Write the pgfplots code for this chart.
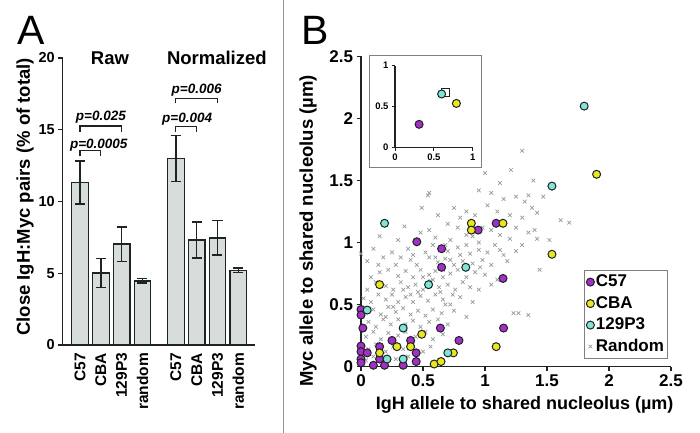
\documentclass[border=0pt]{standalone}
\usepackage{pgfplots}
\pgfplotsset{compat=1.18}
\usepackage{fontspec}
\setmainfont{Liberation Sans}
\definecolor{cc57}{RGB}{165,45,200}
\definecolor{ccba}{RGB}{235,230,30}
\definecolor{c129}{RGB}{125,230,215}
\definecolor{crand}{RGB}{150,155,155}
\definecolor{barfill}{RGB}{214,221,219}
\definecolor{edge}{RGB}{30,35,35}
\newcommand{\fs}[1]{\fontsize{#1bp}{#1bp}\selectfont\bfseries}
\begin{document}
\begin{tikzpicture}
\path[use as bounding box] (0,0) rectangle (700bp,433bp);
\draw[gray!85, line width=1bp] (283bp,0) -- (283bp,433bp);
\node[font=\fontsize{41bp}{41bp}\selectfont, anchor=center] at (31bp,403bp) {A};
\node[font=\fontsize{41bp}{41bp}\selectfont, anchor=center] at (315bp,403bp) {B};

% ---------- Panel A ----------
\begin{axis}[
  at={(62.7bp,88bp)}, anchor=south west,
  scale only axis, width=192.3bp, height=287bp,
  xmin=0.17, xmax=9.4, ymin=0, ymax=20,
  axis x line*=bottom, axis y line*=left,
  axis line style={line width=1.3bp, edge},
  tick align=outside, major tick length=4.5bp,
  tick style={line width=1.3bp, edge},
  xtick={1,2,3,4,5.6,6.6,7.6,8.6},
  xticklabels={C57,CBA,129P3,random,C57,CBA,129P3,random},
  x tick style={draw=none},
  xticklabel style={rotate=90, anchor=east, font=\fs{15.5}},
  ytick={0,5,10,15,20},
  yticklabels={0,5,10,15,20},
  yticklabel style={font=\fs{14.5}},
  ylabel={Close IgH:Myc pairs (\% of total)},
  ylabel style={at={(axis description cs:-0.196,0.516)}, anchor=center, font=\fs{18.5}},
  clip=false,
]
\addplot[ybar, bar width=0.8, fill=barfill, draw=edge, line width=1.3bp,
  error bars/.cd, y dir=both, y explicit,
  error bar style={line width=1.5bp, draw=edge},
  error mark options={rotate=90, mark size=5bp, line width=1.5bp, draw=edge}]
  table[x=x, y=y, y error=e] {
x y e
1 11.31 1.5
2 5.01 1.02
3 7.03 1.2
4 4.47 0.15
5.6 13.0 1.6
6.6 7.32 1.25
7.6 7.46 1.2
8.6 5.2 0.15
};
\node[font=\fs{18.5}] at (axis cs:2.44,20) {Raw};
\node[font=\fs{18.5}] at (axis cs:7.57,20) {Normalized};
\draw[edge, line width=1.3bp] (axis cs:1,14.86) -- (axis cs:1,15.26) -- (axis cs:3,15.26) -- (axis cs:3,14.86);
\draw[edge, line width=1.3bp] (axis cs:1,13.15) -- (axis cs:1,13.54) -- (axis cs:2,13.54) -- (axis cs:2,13.15);
\draw[edge, line width=1.3bp] (axis cs:5.6,16.84) -- (axis cs:5.6,17.16) -- (axis cs:7.6,17.16) -- (axis cs:7.6,16.84);
\draw[edge, line width=1.3bp] (axis cs:5.6,14.86) -- (axis cs:5.6,15.21) -- (axis cs:6.6,15.21) -- (axis cs:6.6,14.86);
\node[font=\fs{13.5}\itshape] at (axis cs:2.0,15.87) {p=0.025};
\node[font=\fs{13.5}\itshape] at (axis cs:1.9,13.89) {p=0.0005};
\node[font=\fs{13.5}\itshape] at (axis cs:6.6,17.77) {p=0.006};
\node[font=\fs{13.5}\itshape] at (axis cs:6.14,15.75) {p=0.004};
\end{axis}

% ---------- Panel B ----------
\begin{axis}[
  at={(361bp,66.5bp)}, anchor=south west,
  scale only axis, width=310bp, height=310bp,
  xmin=0, xmax=2.5, ymin=0, ymax=2.5,
  axis x line*=bottom, axis y line*=left,
  axis line style={line width=1.3bp, edge},
  tick align=outside, major tick length=4.5bp,
  tick style={line width=1.3bp, edge},
  xtick={0,0.5,1,1.5,2,2.5}, xticklabels={0,0.5,1,1.5,2,2.5},
  ytick={0,0.5,1,1.5,2,2.5}, yticklabels={0,0.5,1,1.5,2,2.5},
  ticklabel style={font=\fs{17}},
  xlabel={IgH allele to shared nucleolus (µm)},
  ylabel={Myc allele to shared nucleolus (µm)},
  xlabel style={at={(axis description cs:0.528,-0.124)}, anchor=center, font=\fs{18}},
  ylabel style={at={(axis description cs:-0.171,0.437)}, anchor=center, font=\fs{18.5}},
  clip=false,
  legend style={at={(0.719,0.311)}, anchor=north west, draw=gray, line width=1bp,
    fill=white, font=\fs{17}, row sep=2.5bp, inner sep=2bp,
    nodes={inner sep=1.5bp, text height=12.5bp, text depth=3.5bp}},
  legend cell align=left,
  legend image code/.code={\draw[mark repeat=2,mark phase=2,#1] plot coordinates {(0bp,0bp) (6bp,0bp) (12bp,0bp)};},
]
\addplot[only marks, mark=x, mark size=2.6bp, color=crand, line width=0.7bp, forget plot] coordinates {
(1.30,1.74) (1.21,1.585) (1.0,1.56) (1.39,1.50) (1.12,1.48)
(0.54,1.38) (0.55,1.40) (1.25,1.37) (1.35,1.38) (1.47,1.37) (0.95,1.42) (1.05,1.40) (1.15,1.35) (1.32,1.33)
(0.49,1.28) (0.75,1.28) (0.85,1.25) (0.92,1.22) (1.02,1.30) (1.10,1.25) (1.20,1.22) (1.30,1.20) (1.38,1.28) (1.42,1.24) (0.62,1.22) (0.80,1.20)
(0.35,1.13) (1.61,1.18) (1.68,1.16) (0.70,1.15) (0.78,1.12) (0.98,1.12) (1.05,1.10) (1.12,1.06) (1.25,1.12) (1.35,1.08) (1.42,1.03) (1.52,1.02) (0.55,1.10)
(0.15,1.05) (0.30,1.02) (0.48,1.08) (0.60,1.04) (0.72,1.02) (0.85,1.06) (0.95,1.0) (1.08,0.98) (1.20,1.03) (1.30,0.98) (1.40,1.10)
(0.0,0.91) (0.10,0.95) (0.25,0.92) (0.38,0.95) (0.52,0.92) (0.58,0.98) (0.70,0.93) (0.78,0.96) (0.88,0.91) (0.95,0.94) (1.02,0.92) (1.15,0.90) (1.25,0.93)
(0.05,0.85) (0.18,0.88) (0.28,0.82) (0.40,0.86) (0.45,0.82) (0.55,0.88) (0.62,0.84) (0.68,0.87) (0.75,0.82) (0.82,0.85) (0.90,0.83) (0.98,0.86) (1.05,0.82) (1.18,0.85)
(0.08,0.72) (0.15,0.76) (0.22,0.78) (0.30,0.73) (0.36,0.77) (0.42,0.72) (0.48,0.78) (0.55,0.74) (0.60,0.77) (0.66,0.72) (0.72,0.75) (0.78,0.78) (0.85,0.72) (0.92,0.76) (1.0,0.74) (1.44,0.78) (1.10,0.70)
(0.05,0.62) (0.12,0.68) (0.20,0.65) (0.26,0.62) (0.32,0.68) (0.38,0.64) (0.44,0.66) (0.50,0.62) (0.56,0.69) (0.63,0.64) (0.70,0.66) (0.76,0.62) (0.82,0.68) (0.88,0.64) (0.95,0.62) (1.05,0.66)
(0.02,0.55) (0.08,0.52) (0.14,0.58) (0.20,0.54) (0.25,0.58) (0.30,0.52) (0.36,0.56) (0.42,0.52) (0.48,0.57) (0.54,0.53) (0.60,0.58) (0.66,0.54) (0.72,0.50) (0.80,0.56) (0.90,0.52)
(0.10,0.46) (0.16,0.42) (0.22,0.48) (0.28,0.44) (0.34,0.47) (0.40,0.42) (0.46,0.45) (0.52,0.41) (0.58,0.46) (0.65,0.43) (0.75,0.45) (1.23,0.43) (1.27,0.43) (1.35,0.415) (0.85,0.40)
(0.06,0.36) (0.12,0.32) (0.18,0.38) (0.24,0.34) (0.30,0.38) (0.36,0.34) (0.42,0.37) (0.48,0.32) (0.55,0.36) (0.62,0.38) (0.70,0.34)
(0.04,0.24) (0.10,0.28) (0.16,0.22) (0.22,0.27) (0.30,0.25) (0.36,0.28) (0.44,0.24) (0.52,0.28) (0.58,0.22) (0.66,0.26)
(0.06,0.14) (0.12,0.18) (0.20,0.12) (0.26,0.16) (0.34,0.14) (0.42,0.18) (0.50,0.12) (0.56,0.16)
(0.04,0.05) (0.10,0.08) (0.18,0.04) (0.28,0.06) (0.38,0.08) (0.46,0.03)
(0.58,0.70) (0.64,0.60) (0.68,0.50) (0.74,0.58) (0.66,0.78) (0.60,0.88) (0.50,0.72) (0.46,0.60) (0.40,0.58) (0.34,0.62) (0.26,0.48) (0.20,0.40)
(0.85,0.98) (0.90,1.05) (0.80,0.90) (0.72,0.86) (0.96,0.80) (1.12,0.94) (0.68,0.98) (0.42,0.90) (0.32,0.88) (0.14,0.82)
};
\addplot[only marks, mark=*, mark size=4bp, mark options={fill=cc57, draw=edge, line width=1bp}] coordinates {
(0,0.46) (0,0.415) (0.015,0.31) (0,0.165) (0,0.12) (0.05,0.11) (0,0.06) (0,0.03) (0.10,0.01) (0.15,0.16) (0.15,0.06) (0.19,0.01) (0.25,0.21) (0.34,0.01) (0.40,0.21) (0.445,0.11) (0.445,0.04) (0.45,1.006) (0.65,0.95) (0.65,0.80) (0.64,0.31) (0.79,0.21) (0.945,1.10) (1.09,1.155) (1.145,0.71) (1.15,0.31)
};
\addlegendentry{C57}
\addplot[only marks, mark=*, mark size=4bp, mark options={fill=ccba, draw=edge, line width=1bp}] coordinates {
(0.15,0.66) (0.15,0.11) (0.29,0.16) (0.40,0.16) (0.49,0.26) (0.59,0.02) (0.645,0.04) (0.745,0.11) (0.89,1.155) (0.89,1.10) (1.09,0.16) (1.145,1.155) (1.54,0.905) (1.90,1.55)
};
\addlegendentry{CBA}
\addplot[only marks, mark=*, mark size=4bp, mark options={fill=c129, draw=edge, line width=1bp}] coordinates {
(0.05,0.455) (0.34,0.31) (0.21,0.06) (0.34,0.06) (0.19,1.155) (0.545,0.66) (0.70,0.11) (0.845,0.80) (1.54,1.455) (1.80,2.10)
};
\addlegendentry{129P3}
\addlegendimage{only marks, mark=x, mark size=2.6bp, color=crand, line width=0.7bp}
\addlegendentry{Random}
\end{axis}

% ---------- Inset ----------
\draw[gray, line width=1bp, fill=white] (369bp,377bp) rectangle (481bp,265bp);
\begin{axis}[
  at={(395bp,285.3bp)}, anchor=south west,
  scale only axis, width=77.7bp, height=82bp,
  xmin=0, xmax=1, ymin=0, ymax=1,
  axis x line*=bottom, axis y line*=left,
  axis line style={line width=1.1bp, edge},
  tick align=outside, major tick length=3bp,
  tick style={line width=1bp, edge},
  xtick={0,0.5,1}, xticklabels={0,0.5,1},
  ytick={0,0.5,1}, yticklabels={0,0.5,1},
  ticklabel style={font=\fs{9.5}},
  clip=false,
]
\addplot[only marks, mark=square, mark size=4bp, mark options={draw=edge, line width=1bp}] coordinates {(0.65,0.675)};
\addplot[only marks, mark=*, mark size=4bp, mark options={fill=cc57, draw=edge, line width=1bp}] coordinates {(0.31,0.285)};
\addplot[only marks, mark=*, mark size=4bp, mark options={fill=c129, draw=edge, line width=1bp}] coordinates {(0.60,0.655)};
\addplot[only marks, mark=*, mark size=4bp, mark options={fill=ccba, draw=edge, line width=1bp}] coordinates {(0.79,0.54)};
\end{axis}
\end{tikzpicture}
\end{document}
